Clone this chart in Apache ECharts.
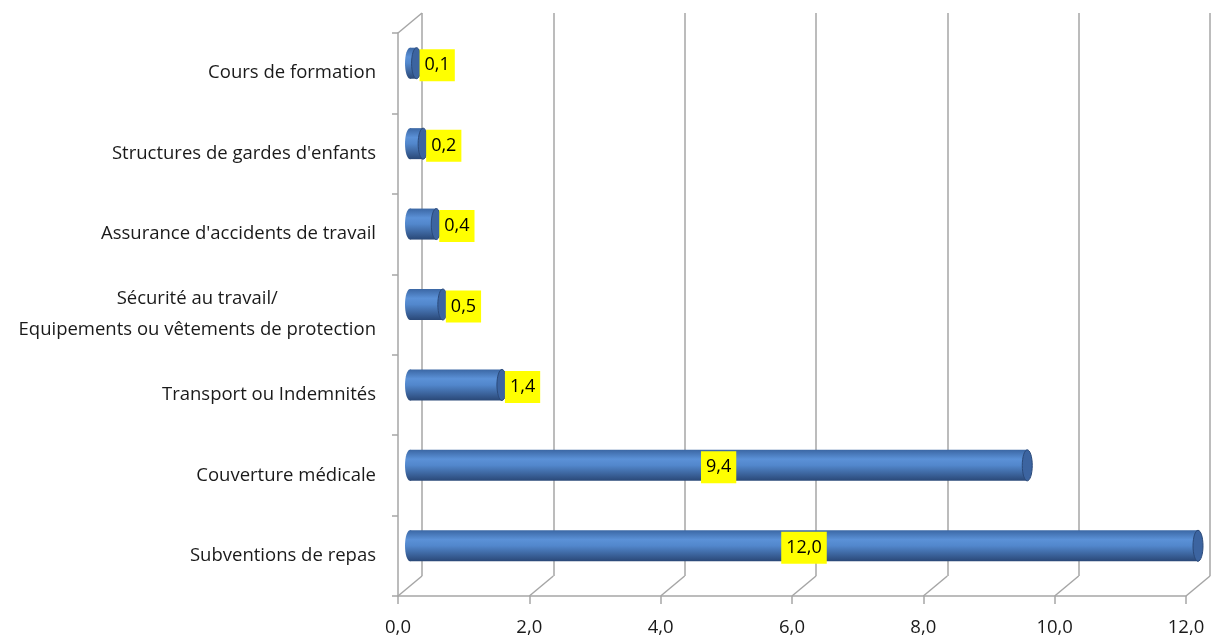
<!DOCTYPE html>
<html>
<head>
<meta charset="utf-8">
<script src="https://cdn.jsdelivr.net/npm/echarts@6/dist/echarts.min.js"></script>
<style>
html,body{margin:0;padding:0;background:#fff;}
#c{width:1212px;height:644px;}
</style>
</head>
<body>
<div id="c"></div>
<script>
const categories = [
  "Subventions de repas",
  "Couverture médicale",
  "Transport ou Indemnités",
  "Sécurité au travail/\nEquipements ou vêtements de protection",
  "Assurance d'accidents de travail",
  "Structures de gardes d'enfants",
  "Cours de formation"
];
const values = [12.0, 9.4, 1.4, 0.5, 0.4, 0.2, 0.1];
const xTicks = [0, 2, 4, 6, 8, 10, 12];

const FONT = 'Open Sans';
const GRID_COLOR = '#a6a6a6';
const DEPTH_DX = 24, DEPTH_DY = -20;
const fmt = v => Number(v).toFixed(1).replace('.', ',');

const chart = echarts.init(document.getElementById('c'), null, {renderer: 'canvas'});

const barGrad = {
  type: 'linear', x: 0, y: 0, x2: 0, y2: 1,
  colorStops: [
    {offset: 0, color: '#3b67a4'},
    {offset: 0.3, color: '#5b91d7'},
    {offset: 0.5, color: '#5287cc'},
    {offset: 1, color: '#2a4877'}
  ]
};

const option = {
  animation: false,
  backgroundColor: '#fff',
  grid: [
    {left: 422, right: 2, top: 13, bottom: 68},   // back wall
    {left: 398, right: 26, top: 33, bottom: 48},  // front plane
    {left: 410, right: 14, top: 23, bottom: 58}   // bars (mid depth)
  ],
  xAxis: [
    {gridIndex: 0, type: 'value', min: 0, max: 12, interval: 2,
      axisLine: {show: false}, axisTick: {show: false}, axisLabel: {show: false},
      splitLine: {show: true, lineStyle: {color: GRID_COLOR, width: 1.5}}},
    {gridIndex: 1, type: 'value', min: 0, max: 12, interval: 2,
      axisLine: {show: true, lineStyle: {color: GRID_COLOR, width: 1.5}},
      axisTick: {show: true, length: 8, lineStyle: {color: GRID_COLOR, width: 1.5}},
      axisLabel: {show: true, formatter: fmt, fontFamily: FONT, fontSize: 18.5, color: '#1a1a1a', margin: 22},
      splitLine: {show: false}},
    {gridIndex: 2, type: 'value', min: 0, max: 12, interval: 2, show: false}
  ],
  yAxis: [
    {gridIndex: 0, type: 'category', data: categories, show: false},
    {gridIndex: 1, type: 'category', data: categories,
      axisLine: {show: true, lineStyle: {color: GRID_COLOR, width: 1.5}},
      axisTick: {show: true, length: 6, lineStyle: {color: GRID_COLOR, width: 1.5}},
      axisLabel: {
        margin: 22,
        formatter: v => v.split('\n').map(s => '{c|' + s + '}').join('\n'),
        rich: {c: {align: 'center', fontFamily: FONT, fontSize: 18.5, color: '#1a1a1a', lineHeight: 31}}
      },
      splitLine: {show: false}},
    {gridIndex: 2, type: 'category', data: categories, show: false}
  ],
  series: [
    {
      type: 'custom', xAxisIndex: 1, yAxisIndex: 1, silent: true,
      data: xTicks.map(v => [v]),
      encode: {x: 0},
      renderItem(params, api) {
        const cs = params.coordSys;
        const x = api.coord([api.value(0), 0])[0];
        const yb = cs.y + cs.height;
        const children = [{type: 'line', shape: {x1: x, y1: yb, x2: x + DEPTH_DX, y2: yb + DEPTH_DY},
          style: {stroke: GRID_COLOR, lineWidth: 1.5}}];
        if (params.dataIndex === 0) {
          children.push({type: 'line', shape: {x1: cs.x, y1: cs.y, x2: cs.x + DEPTH_DX, y2: cs.y + DEPTH_DY},
            style: {stroke: GRID_COLOR, lineWidth: 1.5}});
        }
        return {type: 'group', children};
      }
    },
    {
      type: 'custom', xAxisIndex: 2, yAxisIndex: 2, silent: true,
      data: values.map((v, i) => [v, i]),
      encode: {x: 0, y: 1},
      renderItem(params, api) {
        const v = api.value(0), c = api.value(1);
        const p0 = api.coord([0, c]);
        const p1 = api.coord([v, c]);
        const h = 31, rx = 5;
        const children = [
          {type: 'ellipse', shape: {cx: p0[0], cy: p0[1], rx: rx, ry: h / 2}, style: {fill: barGrad}},
          {type: 'rect', shape: {x: p0[0], y: p0[1] - h / 2, width: p1[0] - p0[0], height: h}, style: {fill: barGrad}},
          {type: 'ellipse', shape: {cx: p1[0], cy: p1[1], rx: rx, ry: h / 2},
            style: {fill: '#3c64a0', stroke: '#2b4a7a', lineWidth: 1}}
        ];
        const inside = v > 5;
        children.push({
          type: 'text', z2: 10,
          x: inside ? (p0[0] + p1[0]) / 2 : p1[0] + 3,
          y: p1[1] + 2,
          style: {
            text: fmt(v), fill: '#000', font: '18px "' + FONT + '"',
            align: inside ? 'center' : 'left', verticalAlign: 'middle',
            backgroundColor: '#ffff00', padding: [8, 5, 6, 5]
          }
        });
        return {type: 'group', children};
      }
    }
  ]
};
chart.setOption(option);
</script>
</body>
</html>
